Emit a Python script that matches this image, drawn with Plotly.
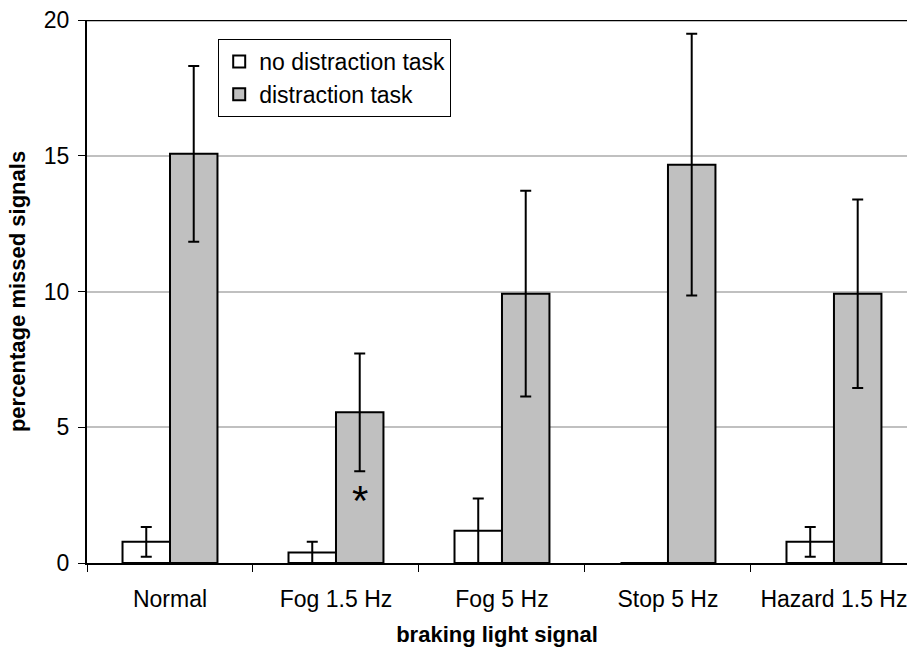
import plotly.graph_objects as go

categories = ["Normal", "Fog 1.5 Hz", "Fog 5 Hz", "Stop 5 Hz", "Hazard 1.5 Hz"]
no_distraction = [0.78, 0.39, 1.19, 0.0, 0.78]
no_distraction_err = [0.55, 0.39, 1.19, 0.0, 0.55]
distraction = [15.07, 5.55, 9.92, 14.67, 9.92]
distraction_err = [3.24, 2.17, 3.79, 4.82, 3.47]
y_ticks = [0, 5, 10, 15, 20]

FONT = "Liberation Sans"

fig = go.Figure()
fig.add_trace(go.Bar(
    name="no distraction task", x=categories, y=no_distraction,
    marker=dict(color="white", line=dict(color="black", width=2)),
    error_y=dict(type="data", array=no_distraction_err, visible=True,
                 color="black", thickness=2, width=5.5),
))
fig.add_trace(go.Bar(
    name="distraction task", x=categories, y=distraction,
    marker=dict(color="#c0c0c0", line=dict(color="black", width=2)),
    error_y=dict(type="data", array=distraction_err, visible=True,
                 color="black", thickness=2, width=5.5),
))

fig.add_annotation(
    x="Fog 1.5 Hz", y=2.3, xref="x", yref="y", text="*", showarrow=False,
    xshift=24, font=dict(family=FONT, size=42, color="black"),
)

fig.add_shape(type="line", xref="paper", yref="y", x0=0, x1=1, y0=20, y1=20,
              line=dict(color="black", width=2.5))

fig.update_layout(
    width=907, height=653,
    margin=dict(l=87, r=0, t=20, b=90),
    paper_bgcolor="white", plot_bgcolor="white",
    barmode="group", bargap=0.428, bargroupgap=0,
    font=dict(family=FONT, size=23, color="black"),
    showlegend=True,
    legend=dict(
        x=0.16, y=0.965, xanchor="left", yanchor="top",
        bgcolor="white", bordercolor="black", borderwidth=1,
        font=dict(family=FONT, size=23, color="black"),
        itemsizing="constant", tracegroupgap=0, itemwidth=30,
    ),
    xaxis=dict(
        type="category", range=[-0.5, 4.44],
        showline=True, linecolor="black", linewidth=2,
        ticks="outside", tickson="boundaries", ticklen=7, tickcolor="black",
        tickwidth=1, showgrid=False, ticklabelstandoff=14,
        tickfont=dict(family=FONT, size=23, color="black"),
        title=dict(text="<b>braking light signal</b>", standoff=16,
                   font=dict(family=FONT, size=22, color="black")),
    ),
    yaxis=dict(
        range=[0, 20], tickvals=y_ticks, ticktext=[str(v) for v in y_ticks],
        showline=True, linecolor="black", linewidth=2,
        ticks="outside", ticklen=7, tickcolor="black", tickwidth=1,
        showgrid=True, gridcolor="#c0c0c0", gridwidth=1.5, zeroline=False,
        ticklabelstandoff=4,
        tickfont=dict(family=FONT, size=23, color="black"),
        title=dict(text="<b>percentage missed signals</b>", standoff=12,
                   font=dict(family=FONT, size=22, color="black")),
    ),
)

fig.write_html("out.html")
